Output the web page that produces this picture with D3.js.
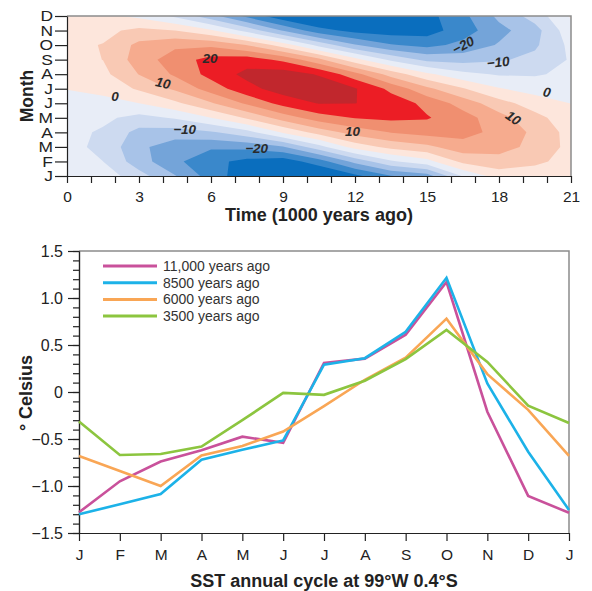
<!DOCTYPE html>
<html><head><meta charset="utf-8">
<script src="https://cdn.jsdelivr.net/npm/d3@7"></script>
<style>
html,body{margin:0;padding:0;background:#fff;}
svg{display:block;font-family:"Liberation Sans",Arial,Helvetica,sans-serif;}
</style></head><body>
<svg id="chart" width="592" height="591"></svg>
<script>
// ---------- top panel data ----------
const monthLabels = ["J","F","M","A","M","J","J","A","S","O","N","D"];
const timeTicks = d3.range(0, 22);
const gridTimes = [0,1.5,3,4.5,6,7.5,9,10.5,12,13.5,15,16.5,18,19.5,21];
// anomaly[i] = field values at gridTimes[i] for months J..D
const anomaly = [
  [-0.45,-2.47,-3.54,-3.43,-2.68,-1.43,0.10,2.06,3.48,4.00,3.39,1.74],
  [-2.11,-4.98,-6.19,-5.67,-3.96,-1.42,1.33,3.66,5.05,5.17,3.75,1.18],
  [-8.06,-12.74,-13.93,-11.63,-6.60,0.00,5.73,10.16,12.37,11.35,6.25,-1.12],
  [-14.7,-18.87,-17.63,-12.43,-4.48,3.90,10.90,15.77,17.50,14.04,4.99,-5.87],
  [-22.3,-23.6,-19.2,-10.7,0.0,9.5,17.2,21.7,21.8,14.0,0.7,-13.2],
  [-28.3,-26.4,-18.6,-6.7,5.7,15.9,23.3,26.4,22.7,9.9,-6.8,-21.3],
  [-33.0,-27.9,-15.5,0.6,12.3,21.8,27.4,27.8,18.8,2.7,-15.4,-28.7],
  [-31.4,-22.3,-6.9,7.1,17.7,25.3,28.4,24.5,11.3,-6.6,-23.1,-32.1],
  [-26.3,-13.5,2.1,12.2,20.3,25.1,25.4,16.8,1.7,-14.5,-26.6,-31.0],
  [-20.3,-5.8,6.5,15.2,21.1,23.0,18.7,8.0,-6.0,-19.6,-27.6,-28.2],
  [-17.3,-1.7,8.8,16.8,20.4,18.6,11.2,1.1,-11.3,-21.5,-27.2,-26.7],
  [-4.5,6.3,12.9,16.8,17.1,12.9,5.4,-3.6,-12.0,-18.6,-22.4,-21.3],
  [2.4,8.0,12.0,13.5,11.9,7.0,0.35,-5.5,-10.6,-14.5,-16.6,-13.8],
  [2.2,6.1,8.5,8.9,6.7,2.5,-1.9,-5.5,-8.6,-10.8,-11.9,-7.9],
  [2.0,3.1,3.5,3.1,1.75,-0.1,-2.3,-3.9,-4.5,-3.7,-1.7,0.55]
];
const contourLevels = [-25,-20,-15,-10,-5,0,5,10,15,20,25];
const bandColors = ["#0a6ebe","#3a88cb","#74a4d9","#a8c3e8","#cddaf0","#e8edf7",
                    "#fde6dc","#f9c9b4","#f6ab8e","#f08f70","#ec1d25","#c1272d"];
const contourLabels = [
  {text:"0", t:2.0, m:5.5, angle:0},
  {text:"10", t:4.0, m:6.4, angle:12},
  {text:"20", t:5.96, m:8.1, angle:0},
  {text:"\u221210", t:4.9, m:3.23, angle:0},
  {text:"\u221220", t:7.9, m:1.93, angle:0},
  {text:"10", t:11.9, m:3.1, angle:0},
  {text:"\u221220", t:16.5, m:9.0, angle:-28},
  {text:"\u221210", t:17.96, m:7.84, angle:-6},
  {text:"0", t:20.0, m:5.78, angle:12},
  {text:"10", t:18.6, m:4.0, angle:35}
];

// ---------- bottom panel data ----------
const cycleMonths = ["J","F","M","A","M","J","J","A","S","O","N","D","J"];
const seriesNames = ["11,000 years ago","8500 years ago","6000 years ago","3500 years ago"];
const sst11000 = [-1.28,-0.95,-0.74,-0.62,-0.475,-0.54,0.31,0.355,0.61,1.17,-0.21,-1.105,-1.285];
const sst8500  = [-1.30,-1.195,-1.085,-0.72,-0.615,-0.515,0.29,0.36,0.64,1.215,0.09,-0.635,-1.255];
const sst6000  = [-0.68,-0.84,-1.0,-0.675,-0.575,-0.42,-0.15,0.13,0.365,0.78,0.19,-0.19,-0.68];
const sst3500  = [-0.315,-0.67,-0.66,-0.58,-0.30,-0.01,-0.03,0.12,0.35,0.66,0.32,-0.145,-0.33];
const seriesColors = ["#c9519b","#1cb2e8","#f9a655","#8cc53f"];
const yMajorTicks = [-1.5,-1.0,-0.5,0,0.5,1.0,1.5];

const svg = d3.select("#chart");

// ================= TOP PANEL =================
const xT = d3.scaleLinear().domain([0,21]).range([67,571]);
const yM = d3.scaleLinear().domain([0,11]).range([176,16]);

svg.append("defs").append("clipPath").attr("id","clipTop")
  .append("rect").attr("x",xT(0)).attr("y",yM(11)).attr("width",xT(21)-xT(0)).attr("height",yM(0)-yM(11));

const topG = svg.append("g").attr("clip-path","url(#clipTop)");
topG.append("rect").attr("x",xT(0)).attr("y",yM(11)).attr("width",xT(21)-xT(0)).attr("height",yM(0)-yM(11))
  .attr("fill",bandColors[0]);

const nT = gridTimes.length, nM = monthLabels.length;
const values = [];
for (let j=0;j<nM;j++) for (let i=0;i<nT;i++) values.push(anomaly[i][j]);
const contours = d3.contours().size([nT,nM]).thresholds(contourLevels)(values);
const gx = d3.scaleLinear().domain([0.5,nT-0.5]).range([xT(gridTimes[0]),xT(gridTimes[nT-1])]);
const gy = d3.scaleLinear().domain([0.5,nM-0.5]).range([yM(0),yM(nM-1)]);
const path = d3.geoPath(d3.geoTransform({point(px,py){ this.stream.point(gx(px),gy(py)); }}));
topG.selectAll("path.band").data(contours).join("path").attr("class","band")
  .attr("d",path)
  .attr("fill",(d,k)=>bandColors[k+1]);

// contour labels
svg.append("g").selectAll("text").data(contourLabels).join("text")
  .attr("transform",d=>`translate(${xT(d.t)},${yM(d.m)}) rotate(${d.angle})`)
  .attr("text-anchor","middle").attr("dy","0.36em")
  .attr("font-size",13.5).attr("font-weight","bold").attr("font-style","italic")
  .attr("fill","#2a2a2a").text(d=>d.text);

// frame (top/right gray)
svg.append("path").attr("d",`M${xT(0)},${yM(11)}H${xT(21)}V${yM(0)}`)
  .attr("fill","none").attr("stroke","#8c8c8c").attr("stroke-width",1.5);

// axes
const axB = svg.append("g").attr("transform",`translate(0,${yM(0)})`)
  .call(d3.axisBottom(xT).tickValues(timeTicks).tickSize(7).tickSizeOuter(0).tickPadding(8)
        .tickFormat(d=>d%3===0?d:""));
axB.attr("font-family",null);
axB.selectAll("text").attr("font-size",15.5).attr("fill","#222");
axB.selectAll("line,path").attr("stroke","#222").attr("stroke-width",1.2);

const axL = svg.append("g").attr("transform",`translate(${xT(0)},0)`)
  .call(d3.axisLeft(yM).tickValues(d3.range(nM)).tickSize(12).tickSizeOuter(0)
        .tickFormat(i=>monthLabels[i]));
axL.attr("font-family",null);
axL.selectAll("text").attr("font-size",14.5).attr("fill","#222")
  .attr("x",-11.7).attr("transform","scale(1.2,1)");
axL.selectAll("line,path").attr("stroke","#222").attr("stroke-width",1.2);

svg.append("text").attr("x",(xT(0)+xT(21))/2).attr("y",221).attr("text-anchor","middle")
  .attr("font-size",18).attr("font-weight","bold").attr("fill","#222").text("Time (1000 years ago)");
svg.append("text").attr("transform",`translate(33,${(yM(0)+yM(11))/2}) rotate(-90)`)
  .attr("text-anchor","middle").attr("font-size",17.5).attr("font-weight","bold").attr("fill","#222").text("Month");

// ================= BOTTOM PANEL =================
const xC = d3.scaleLinear().domain([0,12]).range([79,569]);
const yC = d3.scaleLinear().domain([-1.5,1.5]).range([533,251]);

svg.append("path").attr("d",`M${xC(0)},${yC(1.5)}H${xC(12)}V${yC(-1.5)}`)
  .attr("fill","none").attr("stroke","#8c8c8c").attr("stroke-width",1.5);

const minor = svg.append("g").attr("transform",`translate(${xC(0)},0)`)
  .call(d3.axisLeft(yC).tickValues(d3.range(-15,16).map(v=>v/10)).tickSize(6).tickSizeOuter(0).tickFormat(""));
minor.selectAll("line,path").attr("stroke","#222").attr("stroke-width",1.2);
const major = svg.append("g").attr("transform",`translate(${xC(0)},0)`)
  .call(d3.axisLeft(yC).tickValues(yMajorTicks).tickSize(11).tickSizeOuter(0).tickPadding(5)
        .tickFormat(d=>d===0?"0":d3.format(".1f")(d)));
major.attr("font-family",null);
major.selectAll("text").attr("font-size",16).attr("fill","#222");
major.selectAll("line,path").attr("stroke","#222").attr("stroke-width",1.2);

const axC = svg.append("g").attr("transform",`translate(0,${yC(-1.5)})`)
  .call(d3.axisBottom(xC).tickValues(d3.range(13)).tickSize(8).tickSizeOuter(0).tickPadding(8)
        .tickFormat(i=>cycleMonths[i]));
axC.attr("font-family",null);
axC.selectAll("text").attr("font-size",15.5).attr("fill","#222");
axC.selectAll("line,path").attr("stroke","#222").attr("stroke-width",1.2);

const allSeries = [sst11000, sst8500, sst6000, sst3500];
const line = d3.line().x((d,i)=>xC(i)).y(d=>yC(d));
svg.append("g").selectAll("path").data(allSeries).join("path")
  .attr("d",line).attr("fill","none")
  .attr("stroke",(d,k)=>seriesColors[k]).attr("stroke-width",2.6);

// legend
const lg = svg.append("g");
seriesNames.forEach((name,k)=>{
  const yy = 266 + k*16.7;
  lg.append("line").attr("x1",103).attr("x2",157).attr("y1",yy).attr("y2",yy)
    .attr("stroke",seriesColors[k]).attr("stroke-width",3);
  lg.append("text").attr("x",163).attr("y",yy).attr("dy","0.35em")
    .attr("font-size",14).attr("fill","#333").text(name);
});

svg.append("text").attr("x",(xC(0)+xC(12))/2).attr("y",587).attr("text-anchor","middle")
  .attr("font-size",18).attr("font-weight","bold").attr("fill","#222").text("SST annual cycle at 99\u00b0W 0.4\u00b0S");
svg.append("text").attr("transform",`translate(32,393) rotate(-90)`)
  .attr("text-anchor","middle").attr("font-size",18).attr("font-weight","bold").attr("fill","#222")
  .text("\u00b0 Celsius");
</script>
</body></html>
